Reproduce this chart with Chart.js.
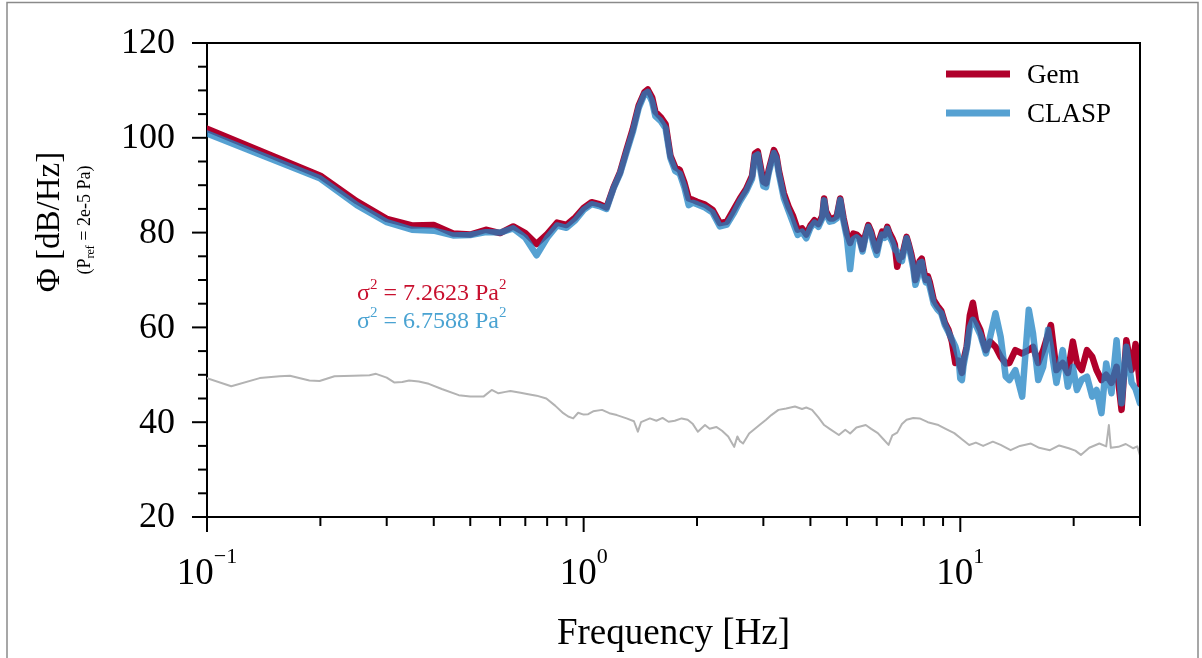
<!DOCTYPE html>
<html>
<head>
<meta charset="utf-8">
<script src="https://cdn.jsdelivr.net/npm/chart.js@4"></script>
<style>
  html, body { margin: 0; padding: 0; background: #fff; }
  #wrap { position: relative; width: 1202px; height: 658px; }
</style>
</head>
<body>
<div id="wrap"><canvas id="canva_psd"></canvas></div>
<script>
// espectros (Hz, dB/Hz)
var frecuencias = [0.1,0.2,0.25,0.3,0.35,0.4,0.45,0.5,0.55,0.6,0.65,0.7,0.75,0.8,0.85,0.9,0.95,1.0,1.05,1.1,1.15,1.2,1.25,1.3,1.35,1.4,1.45,1.48,1.52,1.55,1.6,1.65,1.7,1.75,1.8,1.85,1.9,1.95,2.0,2.1,2.2,2.3,2.4,2.5,2.6,2.7,2.8,2.85,2.9,2.95,3.0,3.05,3.1,3.2,3.25,3.3,3.4,3.5,3.6,3.7,3.8,3.9,4.0,4.1,4.2,4.3,4.35,4.4,4.5,4.6,4.7,4.8,4.9,5.0,5.1,5.2,5.3,5.4,5.5,5.6,5.7,5.8,5.9,6.0,6.1,6.2,6.3,6.4,6.5,6.6,6.7,6.8,6.9,7.0,7.1,7.2,7.3,7.4,7.5,7.6,7.7,7.8,7.9,8.0,8.1,8.2,8.3,8.5,8.7,8.9,9.1,9.3,9.5,9.7,9.9,10.0,10.1,10.2,10.4,10.6,10.8,11.0,11.3,11.5,11.7,12.0,12.4,12.8,13.2,13.5,14.0,14.6,15.2,15.6,16.1,16.6,17.1,17.4,18.0,18.7,19.3,19.9,20.4,21.0,21.7,22.4,23.0,23.7,24.4,25.2,26.0,26.8,27.6,28.5,29.2,30];
var gem = [101.9,92.0,86.6,82.9,81.5,81.6,79.8,79.6,80.6,79.9,81.3,79.9,77.6,79.7,82.1,81.6,83.2,85.2,86.4,86.0,85.3,89.5,92.8,97.5,101.8,106.8,109.6,110.2,108.5,105.5,104.4,102.9,96.2,93.8,93.2,90.6,87.2,86.9,86.5,85.9,84.8,82.0,82.3,84.8,87.2,89.2,92.0,96.7,97.1,93.9,90.7,90.4,93.2,97.4,96.2,93.0,88.3,85.5,83.4,80.6,80.9,79.6,81.5,82.6,81.8,83.5,87.2,84.5,83.0,83.0,83.5,87.2,83.0,79.8,77.8,79.8,79.6,79.0,76.5,79.5,81.6,80.2,78.0,76.2,78.5,80.2,79.5,81.2,79.8,78.8,77.5,72.8,75.0,74.9,77.0,79.1,77.5,75.7,73.5,70.0,71.5,74.0,74.5,72.0,70.0,70.8,69.5,65.8,64.5,63.5,61.0,59.5,57.0,52.5,53.0,51.7,50.4,53.0,56.0,62.5,65.2,61.5,59.5,57.0,55.2,57.0,55.9,53.8,52.4,52.5,55.2,54.5,55.2,55.9,52.5,55.2,58.5,60.5,51.0,52.5,50.4,57.0,52.5,51.0,55.2,53.8,51.0,48.9,50.0,48.3,51.7,42.6,57.3,51.0,56.5,48.0];
var clasp = [100.9,91.4,85.8,82.2,80.6,80.4,79.4,79.5,80.1,80.0,80.9,78.9,75.2,78.9,81.5,81.0,82.6,84.8,86.0,85.6,85.0,89.3,92.5,97.0,101.2,106.3,109.2,109.7,107.6,104.6,103.6,102.0,95.7,93.0,92.4,89.6,85.8,86.3,86.0,85.3,84.2,81.3,81.7,84.0,86.6,88.7,91.4,96.1,96.5,93.0,89.8,89.6,92.6,96.8,95.6,92.3,87.3,84.6,82.0,79.5,80.2,78.8,81.0,82.1,81.2,83.0,86.8,84.0,82.3,82.5,83.0,86.9,82.3,78.9,72.3,78.6,79.0,78.5,76.0,79.0,81.2,79.6,77.0,75.3,78.0,79.6,78.9,80.8,79.0,78.0,76.5,76.0,74.3,74.0,76.5,78.8,77.0,74.9,72.5,69.0,70.5,73.6,73.8,71.0,69.5,70.2,68.5,65.0,63.8,63.0,60.5,59.0,57.5,56.0,53.5,49.2,48.9,52.0,55.5,60.0,61.6,60.5,58.5,56.5,54.5,58.0,63.0,58.0,49.6,48.9,51.0,45.4,63.7,58.7,48.9,51.7,59.5,55.9,48.3,55.2,47.5,51.7,46.8,49.0,49.6,45.4,46.8,41.9,52.4,46.1,57.3,44.0,55.9,48.3,47.0,44.0];

// ruido de fondo (linea gris)
var ruidoFrec = [0.1,0.116,0.138,0.156,0.166,0.187,0.199,0.218,0.245,0.27,0.281,0.3,0.314,0.33,0.344,0.365,0.388,0.42,0.466,0.5,0.542,0.57,0.594,0.62,0.639,0.68,0.713,0.75,0.796,0.84,0.883,0.91,0.938,0.967,1.0,1.028,1.06,1.119,1.17,1.225,1.3,1.36,1.393,1.42,1.499,1.56,1.62,1.68,1.746,1.82,1.889,1.95,2.01,2.1,2.16,2.25,2.33,2.42,2.48,2.51,2.56,2.6,2.65,2.75,2.93,3.05,3.15,3.29,3.45,3.64,3.8,3.9,4.04,4.2,4.35,4.5,4.76,4.95,5.1,5.3,5.61,5.8,6.04,6.25,6.45,6.6,6.8,7.0,7.2,7.5,7.8,8.2,8.75,9.2,9.64,10.1,10.56,11.0,11.5,12.2,12.8,13.6,14.4,15.4,16.2,17.3,18.3,19.4,20.2,20.9,22.0,23.4,24.4,24.8,25.1,26.3,27.5,28.8,29.5,30];
var ruido = [49.3,47.6,49.3,49.7,49.8,48.8,48.7,49.7,49.8,49.9,50.2,49.4,48.4,48.5,48.8,48.6,48.1,47.0,45.7,45.4,45.4,46.8,46.1,46.4,46.6,46.2,45.9,45.6,45.0,43.5,41.9,41.2,40.8,42.0,41.6,41.7,42.3,42.6,41.9,41.5,40.8,40.2,38.0,40.0,40.8,40.3,40.9,40.1,40.3,40.8,40.5,39.6,38.0,39.4,38.6,39.0,38.2,37.0,35.5,34.8,37.0,36.0,35.5,37.6,39.4,40.5,41.5,42.6,42.9,43.3,42.8,43.1,42.6,41.0,39.4,38.6,37.3,38.4,37.6,38.9,39.4,38.6,37.7,36.4,35.2,37.2,37.8,39.6,40.5,40.9,40.8,40.0,39.4,38.5,37.7,36.4,35.2,35.7,35.0,35.9,35.2,34.1,35.0,35.5,34.6,34.1,35.1,34.5,34.0,33.1,34.6,35.5,34.9,39.4,34.6,34.8,35.4,34.5,34.9,33.0];

var nombres = ['Gem', 'CLASP'];
var varianzas = ['7.2623', '6.7588'];
var ticksY = [20, 40, 60, 80, 100, 120];
var decadas = [0.1, 1, 10];
var expDecadas = ['\u22121', '0', '1'];

var rojo = '#b0002b';
var azul = 'rgba(30, 130, 195, 0.75)';
var fuente = '"Liberation Serif", "Times New Roman", serif';

function puntos(xs, ys) {
    var out = [];
    for (var i = 0; i < xs.length; i++) out.push({ x: xs[i], y: ys[i] });
    return out;
}

// dibuja texto con trozos de distinto tamaño (super/subindices)
function textoRico(ctx, partes, x, y, align) {
    var total = 0;
    partes.forEach(function (p) {
        ctx.font = p.size + 'px ' + fuente;
        p.w = ctx.measureText(p.t).width;
        total += p.w;
    });
    var cx = align === 'center' ? x - total / 2 : x;
    ctx.textAlign = 'left';
    partes.forEach(function (p) {
        ctx.font = p.size + 'px ' + fuente;
        ctx.fillText(p.t, cx, y + (p.dy || 0));
        cx += p.w;
    });
}

var extras = {
    id: 'extras',
    afterDraw: function (chart) {
        var ctx = chart.ctx;
        var a = chart.chartArea;
        var sx = chart.scales.x, sy = chart.scales.y;
        ctx.save();

        // marco exterior
        ctx.strokeStyle = '#8a8a8a';
        ctx.lineWidth = 1.5;
        ctx.strokeRect(7, 2.5, 1191, 700);

        // ejes superior y derecho
        ctx.strokeStyle = '#000';
        ctx.lineWidth = 2;
        ctx.beginPath();
        ctx.moveTo(a.left, a.top); ctx.lineTo(a.right, a.top); ctx.lineTo(a.right, a.bottom);
        ctx.stroke();

        // marcas del eje y
        for (var v = 20; v <= 120; v += 5) {
            var py = sy.getPixelForValue(v);
            var largo = (v % 20 === 0) ? 15 : 9;
            ctx.beginPath(); ctx.moveTo(a.left - largo, py); ctx.lineTo(a.left, py); ctx.stroke();
        }
        // marcas del eje x (log)
        decadas.forEach(function (d) {
            for (var k = 1; k <= 9; k++) {
                var f = d * k;
                if (f > 30.0001) break;
                var px = sx.getPixelForValue(f);
                var largo = k === 1 ? 15 : 9;
                ctx.beginPath(); ctx.moveTo(px, a.bottom); ctx.lineTo(px, a.bottom + largo); ctx.stroke();
            }
        });

        ctx.fillStyle = '#000';
        // etiquetas del eje y
        ctx.font = '36px ' + fuente;
        ctx.textAlign = 'right';
        ctx.textBaseline = 'middle';
        ticksY.forEach(function (v) {
            ctx.fillText(String(v), a.left - 32, sy.getPixelForValue(v) + 1);
        });

        ctx.textBaseline = 'alphabetic';
        // etiquetas 10^n
        decadas.forEach(function (d, i) {
            var px = sx.getPixelForValue(d);
            textoRico(ctx, [{ t: '10', size: 37 }, { t: expDecadas[i], size: 22, dy: -21 }], px, 584, 'center');
        });

        // titulo eje x
        ctx.font = '37px ' + fuente;
        ctx.textAlign = 'center';
        ctx.fillText('Frequency [Hz]', (a.left + a.right) / 2, 644);

        // titulo eje y
        ctx.save();
        ctx.translate(59, 222);
        ctx.rotate(-Math.PI / 2);
        ctx.font = '33px ' + fuente;
        ctx.textAlign = 'center';
        ctx.fillText('\u03A6 [dB/Hz]', 0, 0);
        ctx.restore();
        ctx.save();
        ctx.translate(90, 220);
        ctx.rotate(-Math.PI / 2);
        textoRico(ctx, [{ t: '(P', size: 18 }, { t: 'ref', size: 12, dy: 4 }, { t: ' = 2e-5 Pa)', size: 18 }], 0, 0, 'center');
        ctx.restore();

        // leyenda
        var colores = [rojo, azul];
        nombres.forEach(function (n, i) {
            var ly = 74 + i * 39;
            ctx.strokeStyle = colores[i];
            ctx.lineWidth = 7;
            ctx.beginPath(); ctx.moveTo(946, ly); ctx.lineTo(1010, ly); ctx.stroke();
            ctx.fillStyle = '#000';
            ctx.font = '27px ' + fuente;
            ctx.textAlign = 'left';
            ctx.fillText(n, 1027, ly + 9);
        });

        // varianzas
        var coloresTxt = ['#c8102e', '#4aa3d2'];
        varianzas.forEach(function (s, i) {
            ctx.fillStyle = coloresTxt[i];
            textoRico(ctx, [
                { t: '\u03C3', size: 24 }, { t: '2', size: 15, dy: -11 },
                { t: ' = ' + s + ' Pa', size: 24 }, { t: '2', size: 15, dy: -11 }
            ], 357, 300 + i * 28, 'left');
        });
        ctx.restore();
    }
};

var ctx = document.getElementById('canva_psd').getContext('2d');
var grafico = new Chart(ctx, {
    type: 'line',
    data: {
        datasets: [{
            label: nombres[1],
            data: puntos(frecuencias, clasp),
            borderColor: azul,
            borderWidth: 6.5,
            order: 0
        }, {
            label: nombres[0],
            data: puntos(frecuencias, gem),
            borderColor: rojo,
            borderWidth: 6.5,
            order: 1
        }, {
            label: 'ruido',
            data: puntos(ruidoFrec, ruido),
            borderColor: '#b3b3b3',
            borderWidth: 2,
            order: 2
        }]
    },
    options: {
        responsive: true,
        maintainAspectRatio: false,
        animation: false,
        elements: {
            point: { radius: 0 },
            line: { tension: 0, borderJoinStyle: 'round', borderCapStyle: 'round' }
        },
        layout: { padding: { top: 43, right: 62, left: 0, bottom: 0 } },
        plugins: { legend: { display: false }, tooltip: { enabled: false } },
        scales: {
            x: {
                type: 'logarithmic',
                min: 0.1,
                max: 30,
                grid: { display: false },
                border: { color: '#000', width: 2 },
                ticks: { display: false },
                afterFit: function (scale) { scale.height = 141; }
            },
            y: {
                type: 'linear',
                min: 20,
                max: 120,
                grid: { display: false },
                border: { color: '#000', width: 2 },
                ticks: { display: false },
                afterFit: function (scale) { scale.width = 207; }
            }
        }
    },
    plugins: [extras]
});
</script>
</body>
</html>
